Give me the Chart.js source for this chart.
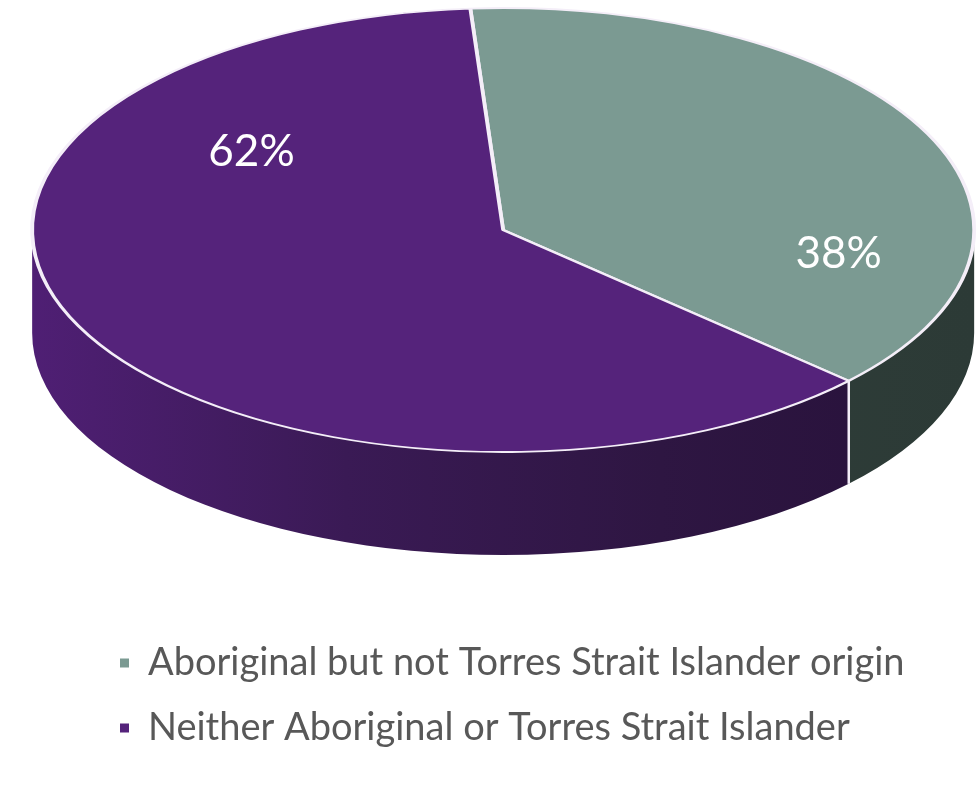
<!DOCTYPE html>
<html>
<head>
<meta charset="utf-8">
<script src="https://cdn.jsdelivr.net/npm/chart.js@4.4.1/dist/chart.umd.min.js"></script>
<style>
  html, body { margin: 0; background: #fff; }
  #wrap { width: 977px; height: 785px; }
</style>
</head>
<body>
<div id="wrap"><canvas id="graficoOrigem"></canvas></div>
<script>
// Dados
const categories = ["Aboriginal but not Torres Strait Islander origin", "Neither Aboriginal or Torres Strait Islander"];
const values = [38, 62];
const valueLabels = ["38%", "62%"];

// Cores (topo e lateral)
const topColours = ["#7b9a92", "#55237b"];
const sideColours = [["#34443f", "#2c3a36"], ["#4f1f74", "#3a1a55", "#2e1642", "#27113a"]];

// posição dos rótulos: desvio angular (graus) e fração do raio
const labelShift = [34, 59];
const labelRadius = [0.72, 0.64];

// geometria da elipse 3D
function geometry(chart) {
  return { x: chart.width * 0.515, y: 230, rx: 471, ry: 222, depth: 103 };
}

const pie3d = {
  id: "pie3d",
  beforeDatasetsDraw(chart) {
    const ctx = chart.ctx;
    const arcs = chart.getDatasetMeta(0).data;
    const g = geometry(chart);
    const TAU = Math.PI * 2;

    // lateral (só a parte da frente)
    arcs.forEach((arc, i) => {
      for (let k = -1; k <= 1; k++) {
        const lo = Math.max(arc.startAngle, TAU * k);
        const hi = Math.min(arc.endAngle, TAU * k + Math.PI);
        if (hi <= lo) continue;
        const grad = ctx.createLinearGradient(g.x - g.rx, 0, g.x + g.rx, 0);
        sideColours[i].forEach((c, j, a) => grad.addColorStop(j / (a.length - 1), c));
        ctx.beginPath();
        ctx.ellipse(g.x, g.y, g.rx, g.ry, 0, lo, hi);
        ctx.ellipse(g.x, g.y + g.depth, g.rx, g.ry, 0, hi, lo, true);
        ctx.closePath();
        ctx.fillStyle = grad;
        ctx.fill();
      }
    });

    // linhas brancas entre as fatias na lateral
    ctx.save();
    ctx.strokeStyle = "#f4eef8";
    ctx.lineWidth = 2.5;
    arcs.forEach((arc) => {
      const a = ((arc.startAngle % TAU) + TAU) % TAU;
      if (a > 0.02 && a < Math.PI - 0.02) {
        const px = g.x + g.rx * Math.cos(a);
        const py = g.y + g.ry * Math.sin(a);
        ctx.beginPath();
        ctx.moveTo(px, py);
        ctx.lineTo(px, py + g.depth);
        ctx.stroke();
      }
    });
    ctx.restore();

    // topo: achata o círculo numa elipse
    const a0 = arcs[0];
    ctx.save();
    ctx.translate(g.x, g.y);
    ctx.scale(g.rx / a0.outerRadius, g.ry / a0.outerRadius);
    ctx.translate(-a0.x, -a0.y);
  },
  afterDatasetsDraw(chart) {
    const ctx = chart.ctx;
    ctx.restore();
    const g = geometry(chart);
    const arcs = chart.getDatasetMeta(0).data;
    ctx.save();
    ctx.fillStyle = "#ffffff";
    ctx.font = "44px Lato, 'Open Sans', sans-serif";
    ctx.textAlign = "center";
    ctx.textBaseline = "middle";
    arcs.forEach((arc, i) => {
      const mid = (arc.startAngle + arc.endAngle) / 2 + labelShift[i] * Math.PI / 180;
      const x = g.x + g.rx * labelRadius[i] * Math.cos(mid);
      const y = g.y + g.ry * labelRadius[i] * Math.sin(mid);
      ctx.fillText(valueLabels[i], x, y);
    });
    ctx.restore();
  },
};

const ctxPie = document.getElementById("graficoOrigem").getContext("2d");
new Chart(ctxPie, {
  type: "pie",
  data: {
    labels: categories,
    datasets: [
      {
        data: values,
        backgroundColor: topColours,
        borderColor: "#f4eef8",
        borderWidth: 2.5,
        clip: false,
      },
    ],
  },
  options: {
    responsive: true,
    maintainAspectRatio: false,
    animation: false,
    events: [],
    rotation: -4,
    layout: { padding: { left: 93, right: 10, top: 0, bottom: 28 } },
    plugins: {
      tooltip: { enabled: false },
      legend: {
        position: "bottom",
        align: "start",
        labels: {
          boxWidth: 9,
          boxHeight: 9,
          padding: 27,
          color: "#585858",
          font: { size: 38, family: "Lato, 'Open Sans', sans-serif" },
          generateLabels(chart) {
            return Chart.overrides.pie.plugins.legend.labels
              .generateLabels(chart)
              .map((l) => Object.assign(l, { lineWidth: 0 }));
          },
        },
      },
    },
  },
  plugins: [pie3d],
});
</script>
</body>
</html>
